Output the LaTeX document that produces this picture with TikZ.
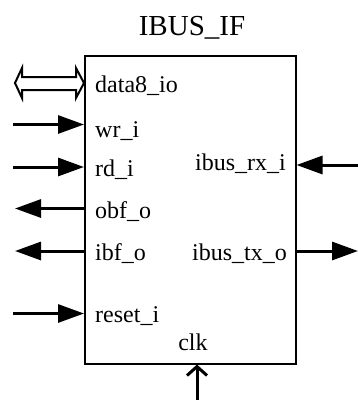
\documentclass[tikz,border=0pt]{standalone}
\usepackage{fontspec}
\setmainfont{Liberation Serif}
\usetikzlibrary{arrows.meta,calc}
\begin{document}
\begin{tikzpicture}[x=1pt,y=-1pt,
  lbl/.style={inner sep=0pt,font=\fontsize{24}{28}\selectfont},
  sig/.style={line width=3pt,-{Triangle[length=26pt,width=18pt]}},
  blk/.style={draw,line width=1.5pt,minimum width=211pt,minimum height=308pt,inner sep=0pt}]
\useasboundingbox (0,0) rectangle (358,400);
\node[blk,anchor=north west] (box) at (84,55) {};
\node[inner sep=0pt,anchor=base,font=\fontsize{29}{34}\selectfont] (title) at (192,35) {IBUS\_IF};
% labels
\node[lbl,anchor=base west] (ldata) at (95,92) {data8\_io};
\node[lbl,anchor=base west] (lwr) at (95,137) {wr\_i};
\node[lbl,anchor=base west] (lrd) at (95,176) {rd\_i};
\node[lbl,anchor=base west] (lobf) at (95,218) {obf\_o};
\node[lbl,anchor=base west] (libf) at (95,260) {ibf\_o};
\node[lbl,anchor=base west] (lrst) at (95,322) {reset\_i};
\node[lbl,anchor=base east] (lrx) at (286,170) {ibus\_rx\_i};
\node[lbl,anchor=base east] (ltx) at (287,260) {ibus\_tx\_o};
\node[lbl,anchor=base] (lclk) at (193,350) {clk};
% free ends
\coordinate (wr) at (13,124.5);
\coordinate (rd) at (13,167);
\coordinate (obf) at (15,208.5);
\coordinate (ibf) at (15,251);
\coordinate (rst) at (13,313.5);
\coordinate (rx) at (358,165);
\coordinate (tx) at (358,251);
\coordinate (clk) at (197,400);
% connectors
\draw[sig] (wr) -- (box.west |- wr);
\draw[sig] (rd) -- (box.west |- rd);
\draw[sig] (box.west |- obf) -- (obf);
\draw[sig] (box.west |- ibf) -- (ibf);
\draw[sig] (rst) -- (box.west |- rst);
\draw[sig] (rx) -- (box.east |- rx);
\draw[sig] (box.east |- tx) -- (tx);
\draw[line width=3pt,-{Straight Barb[length=9pt,width=20pt]}] (clk) -- (box.south -| clk);
% bidirectional hollow arrow
\draw[line width=2pt,line join=miter] (15,83) -- (22,68) -- (22,77) -- (76,77) -- (76,68) -- (box.west |- 0,83) -- (76,98) -- (76,90) -- (22,90) -- (22,98) -- cycle;
\end{tikzpicture}
\end{document}
